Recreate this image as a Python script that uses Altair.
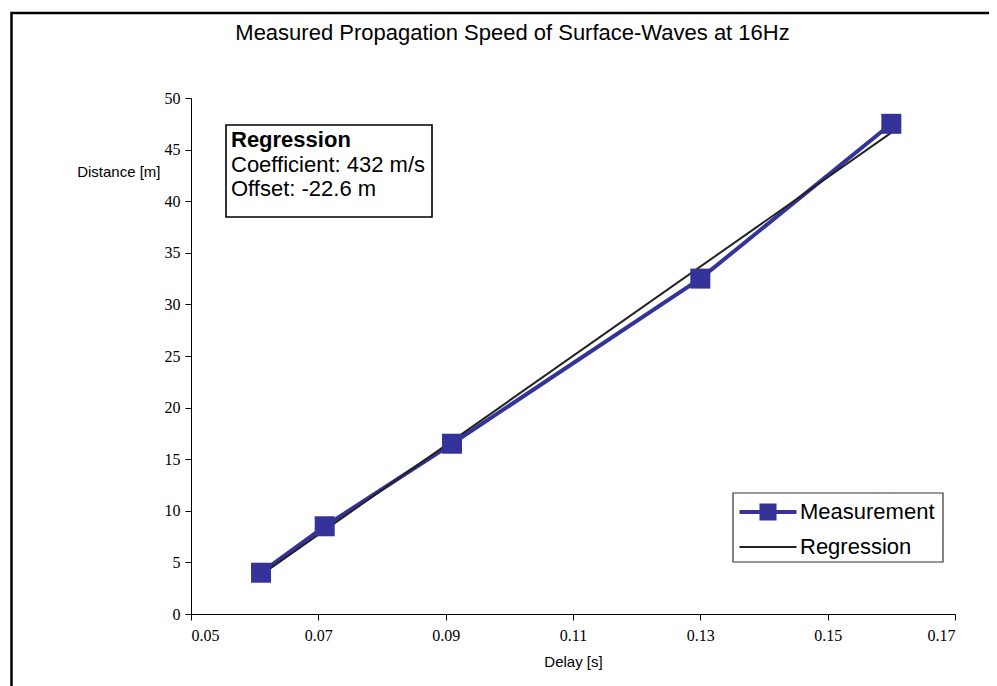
import altair as alt
import pandas as pd

# ---- data ----
delay = [0.061, 0.071, 0.091, 0.13, 0.16]
distance = [4.0, 8.5, 16.5, 32.5, 47.5]
series_names = ["Measurement", "Regression"]
series_colors = ["#333399", "#222222"]
x_ticks = [0.05, 0.07, 0.09, 0.11, 0.13, 0.15, 0.17]
y_ticks = [0, 5, 10, 15, 20, 25, 30, 35, 40, 45, 50]
title_text = "Measured Propagation Speed of Surface-Waves at 16Hz"
x_title = "Delay [s]"
y_title = "Distance [m]"
annotation_lines = ["Regression", "Coefficient: 432 m/s", "Offset: -22.6 m"]

df = pd.DataFrame({"delay": delay, "distance": distance})
one = pd.DataFrame({"k": [0]})

W, H = 764, 516
SANS = "Liberation Sans"
SERIF = "Liberation Serif"

xenc = alt.X(
    "delay:Q",
    scale=alt.Scale(domain=[0.05, 0.17], nice=False, zero=False),
    axis=alt.Axis(
        values=x_ticks, format=".2f", title=x_title,
        titleY=47, titleBaseline="middle", labelPadding=7,
    ),
)
yenc = alt.Y(
    "distance:Q",
    scale=alt.Scale(domain=[0, 50], nice=False),
    axis=alt.Axis(
        values=y_ticks, format="d", title=y_title,
        titleAngle=0, titleAlign="right", titleBaseline="middle",
        titleX=-31, titleY=73, labelPadding=5,
    ),
)

LX, LY = 542, 395
common_leg = dict(
    title=None, orient="none", padding=7,
    labelFont=SANS, labelFontSize=22, labelColor="black",
    symbolSize=400,
)
legend_meas = alt.Legend(
    legendX=LX, legendY=LY,
    symbolType="M-2.85,0H2.85M-0.65,-0.65H0.65V0.65H-0.65Z",
    symbolStrokeWidth=4, symbolFillColor=series_colors[0],
    symbolOffset=16, labelOffset=20,
    **common_leg,
)
legend_reg = alt.Legend(
    legendX=LX, legendY=LY + 36,
    symbolType="M-2.85,0H2.85",
    symbolStrokeWidth=2,
    symbolOffset=17, labelOffset=21,
    **common_leg,
)

base = alt.Chart(df)

meas_line = base.transform_calculate(series=f"'{series_names[0]}'").mark_line(strokeWidth=4).encode(
    x=xenc, y=yenc,
    color=alt.Color("series:N",
                    scale=alt.Scale(domain=[series_names[0]], range=[series_colors[0]]),
                    legend=legend_meas),
)
reg_line = base.transform_regression("delay", "distance").transform_calculate(
    series=f"'{series_names[1]}'"
).mark_line(strokeWidth=2).encode(
    x=xenc, y=yenc,
    color=alt.Color("series:N",
                    scale=alt.Scale(domain=[series_names[1]], range=[series_colors[1]]),
                    legend=legend_reg),
)
points = base.mark_square(size=400, color=series_colors[0], opacity=1, filled=True).encode(x=xenc, y=yenc)

frame = alt.Chart(one).mark_rect(filled=False, stroke="black", strokeWidth=2.5).encode(
    x=alt.value(-179.5), x2=alt.value(900), y=alt.value(-85), y2=alt.value(800)
)
box = alt.Chart(one).mark_rect(fill="white", stroke="black", strokeWidth=1.6).encode(
    x=alt.value(35), x2=alt.value(241), y=alt.value(27), y2=alt.value(119)
)
legend_box = alt.Chart(one).mark_rect(fill="white", stroke="#333333", strokeWidth=1.2).encode(
    x=alt.value(LX), x2=alt.value(752), y=alt.value(LY), y2=alt.value(464)
)

text_layers = []
ys = [49, 74, 98]
for i, line in enumerate(annotation_lines):
    t = alt.Chart(pd.DataFrame({"line": [line]})).mark_text(
        align="left", baseline="alphabetic", font=SANS, fontSize=22,
        fontWeight="bold" if i == 0 else "normal", color="black",
    ).encode(x=alt.value(40), y=alt.value(ys[i]), text="line:N")
    text_layers.append(t)

chart = alt.layer(frame, box, legend_box, meas_line, reg_line, points, *text_layers).resolve_scale(
    color="independent"
).properties(
    width=W,
    height=H,
    background="white",
    autosize=alt.AutoSizeParams(type="none"),
    padding={"left": 183, "top": 90, "right": 34, "bottom": 72},
    title=alt.Title(
        title_text, font=SANS, fontSize=22, fontWeight="normal", color="black",
        anchor="middle", frame="group", dx=-60.5, offset=-50, baseline="alphabetic",
    ),
).configure_view(stroke=None).configure_axis(
    grid=False,
    labelFont=SERIF, labelFontSize=16, labelColor="black",
    titleFont=SANS, titleFontSize=15, titleFontWeight="normal", titleColor="black",
    domainColor="black", domainWidth=1, tickColor="black", tickSize=6, tickWidth=1,
)

chart.save("out.html", embed_options={"renderer": "svg", "actions": False})
